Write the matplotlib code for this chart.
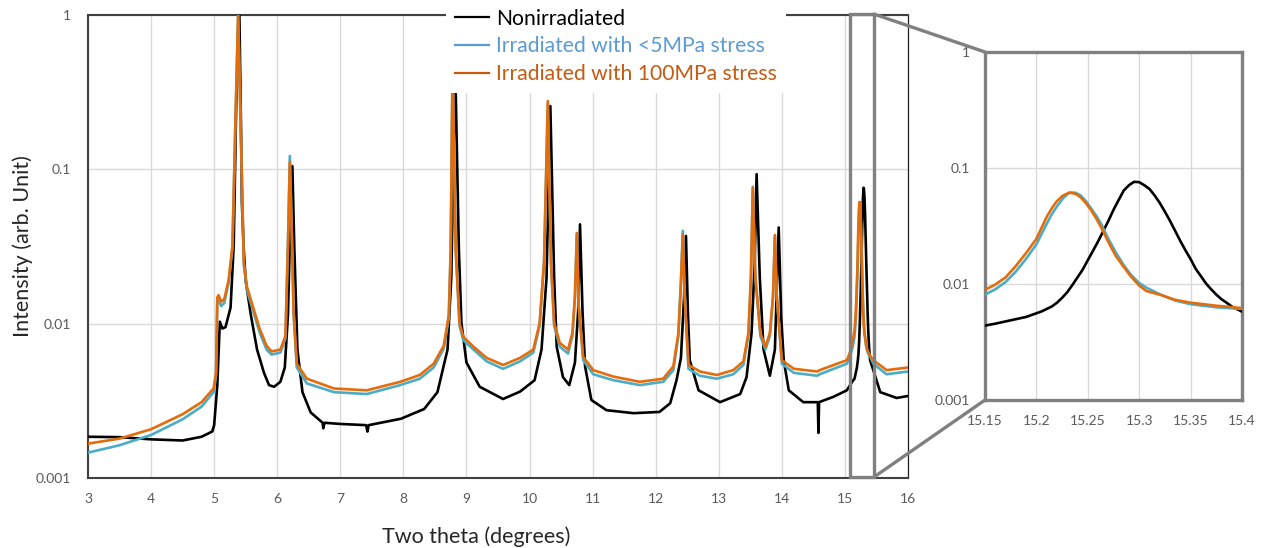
import matplotlib
matplotlib.use("Agg")
import matplotlib.pyplot as plt
from matplotlib.lines import Line2D
from matplotlib.patches import Rectangle, ConnectionPatch
import matplotlib.transforms as mtransforms

plt.rcParams['font.family'] = ['Lato', 'DejaVu Sans']

# ---------------- data ----------------
series_labels = ["Nonirradiated", "Irradiated with <5MPa stress", "Irradiated with 100MPa stress"]

x_non = [3.0, 3.5, 4.0, 4.5, 4.8, 4.97, 5.0, 5.05, 5.09, 5.13, 5.18, 5.26, 5.31, 5.35, 5.40,
         5.425, 5.44, 5.47, 5.50, 5.58, 5.68, 5.79, 5.87, 5.95, 6.05, 6.12, 6.17, 6.21, 6.24,
         6.27, 6.32, 6.40, 6.53, 6.72, 6.73, 6.75, 7.0, 7.41, 7.43, 7.45, 7.96, 8.33, 8.54,
         8.70, 8.76, 8.82, 8.88, 8.92, 9.0, 9.21, 9.58, 9.85, 10.08, 10.19, 10.27, 10.33,
         10.39, 10.43, 10.53, 10.63, 10.72, 10.77, 10.80, 10.84, 10.88, 10.98, 11.22, 11.65,
         12.06, 12.23, 12.33, 12.40, 12.45, 12.48, 12.51, 12.54, 12.68, 13.02, 13.34, 13.44,
         13.52, 13.57, 13.60, 13.65, 13.71, 13.81, 13.89, 13.95, 13.99, 14.03, 14.11, 14.34,
         14.57, 14.58, 14.59, 14.82, 15.03, 15.13,
         15.15, 15.16, 15.175, 15.19, 15.2, 15.205, 15.215, 15.22, 15.225, 15.23, 15.235,
         15.24, 15.245, 15.25, 15.255, 15.26, 15.265, 15.27, 15.275, 15.28, 15.285, 15.29,
         15.295, 15.3, 15.305, 15.31, 15.315, 15.32, 15.325, 15.33, 15.335, 15.34, 15.345,
         15.35, 15.355, 15.36, 15.365, 15.37, 15.375, 15.38, 15.385, 15.39, 15.4,
         15.45, 15.56, 15.82, 16.0]
y_non = [0.00185, 0.00184, 0.00178, 0.00175, 0.00185, 0.0020, 0.0022, 0.0040, 0.0103, 0.0093,
         0.0095, 0.0127, 0.032, 0.26, 1.0,
         0.2, 0.06, 0.03, 0.019, 0.0115, 0.0068, 0.0048, 0.0040, 0.0039, 0.0042, 0.0052,
         0.0115, 0.05, 0.105,
         0.032, 0.0068, 0.0036, 0.00266, 0.00228, 0.0021, 0.00228, 0.00224, 0.0022, 0.0020,
         0.0022, 0.00242, 0.0028, 0.0036,
         0.0068, 0.02, 0.5, 0.03, 0.0101, 0.0056, 0.0039, 0.00325, 0.00363, 0.0043, 0.0068,
         0.02, 0.257,
         0.02, 0.0071, 0.0045, 0.0040, 0.0056, 0.012, 0.044, 0.012, 0.0053, 0.0032, 0.00275,
         0.00263,
         0.00268, 0.00305, 0.0043, 0.0060, 0.015, 0.037, 0.012, 0.0058, 0.0037, 0.0031,
         0.0035, 0.0045,
         0.0087, 0.025, 0.093, 0.02, 0.0068, 0.0046, 0.0068, 0.042, 0.011, 0.0058, 0.0037,
         0.0031,
         0.0031, 0.00196, 0.0031, 0.00336, 0.0037, 0.0043,
         0.00438, 0.00455, 0.00486, 0.0052, 0.00559, 0.0058, 0.0064, 0.0069, 0.0076, 0.0085,
         0.0098,
         0.0114, 0.0133, 0.0160, 0.0193, 0.0233, 0.0285, 0.035, 0.0436, 0.053, 0.064, 0.071,
         0.076, 0.0755, 0.071, 0.066, 0.058, 0.050, 0.042, 0.035, 0.0287, 0.0235, 0.0195,
         0.0164, 0.0135, 0.0117, 0.0101, 0.0090, 0.0081, 0.0074, 0.0069, 0.0064, 0.00578,
         0.0050, 0.0036, 0.0033, 0.0034]

x_irr = [3.0, 3.5, 4.0, 4.5, 4.8, 4.99, 5.03, 5.05, 5.07, 5.11, 5.16, 5.23, 5.29, 5.33, 5.38,
         5.42, 5.47, 5.52, 5.62, 5.72, 5.83, 5.91, 6.05, 6.13, 6.17, 6.20, 6.23, 6.26, 6.31,
         6.47, 6.9, 7.42, 7.95, 8.26, 8.48, 8.64, 8.72, 8.75, 8.78, 8.83, 8.89, 8.95, 9.11,
         9.32, 9.58, 9.85, 10.06, 10.16, 10.23, 10.29, 10.34, 10.39, 10.48, 10.61, 10.68,
         10.72, 10.75, 10.78, 10.85, 11.01, 11.33, 11.75, 12.12, 12.28, 12.36, 12.40, 12.43,
         12.46, 12.52, 12.70, 12.97, 13.23, 13.39, 13.47, 13.51, 13.54, 13.58, 13.66, 13.74,
         13.81, 13.86, 13.89, 13.92, 14.0, 14.19, 14.56, 14.6, 15.03, 15.08, 15.12,
         15.15, 15.16, 15.17, 15.18, 15.19, 15.2, 15.21, 15.215, 15.22, 15.226, 15.232,
         15.238, 15.243, 15.248, 15.253, 15.258, 15.263, 15.27, 15.277, 15.285, 15.292, 15.3,
         15.307, 15.322, 15.335, 15.35, 15.375, 15.4,
         15.45, 15.66, 16.0]
y_low = [0.00146, 0.00163, 0.0019, 0.0024, 0.0029, 0.0036, 0.0046, 0.0138, 0.0143, 0.0130,
         0.0136, 0.0185, 0.031, 0.15, 1.0,
         0.2, 0.024, 0.0165, 0.0120, 0.0088, 0.0068, 0.0063, 0.0065, 0.0080, 0.033, 0.122,
         0.04, 0.0115, 0.0052,
         0.0041, 0.0036, 0.0035, 0.0040, 0.0044, 0.0052, 0.0069, 0.0108, 0.03, 0.5, 0.03,
         0.0097, 0.0078, 0.0068,
         0.0057, 0.0051, 0.0057, 0.0065, 0.0097, 0.025, 0.27, 0.025, 0.0097, 0.0071, 0.0064,
         0.0083,
         0.015, 0.038, 0.013, 0.0058, 0.0047, 0.0043, 0.0040, 0.0042, 0.0050, 0.0084, 0.019,
         0.040,
         0.015, 0.0051, 0.0046, 0.0044, 0.0047, 0.0054, 0.0084, 0.02, 0.077, 0.02, 0.0083,
         0.0068,
         0.0083, 0.015, 0.037, 0.015, 0.0055, 0.0048, 0.0046, 0.0047, 0.0055, 0.0061, 0.0070,
         0.0081, 0.0090, 0.0104, 0.0128, 0.0165, 0.0220, 0.0330, 0.040, 0.0467, 0.055, 0.0615,
         0.0612, 0.058, 0.052, 0.045, 0.039, 0.033, 0.0245, 0.0189, 0.0145, 0.0120, 0.0102,
         0.0093, 0.0080, 0.0072, 0.0067, 0.0063, 0.0061,
         0.0055, 0.0047, 0.0049]

x_high = x_irr
y_high = [0.00167, 0.0018, 0.00207, 0.00259, 0.0031, 0.0038, 0.0048, 0.0148, 0.0153, 0.0139,
          0.0144, 0.0192, 0.032, 0.154, 1.0,
          0.2, 0.025, 0.0173, 0.0127, 0.0093, 0.0072, 0.0066, 0.0068, 0.0083, 0.032, 0.112,
          0.04, 0.012, 0.0055,
          0.0044, 0.0038, 0.0037, 0.0042, 0.00465, 0.0055, 0.0072, 0.0114, 0.03, 0.5, 0.03,
          0.0101, 0.0082, 0.0071,
          0.0060, 0.0054, 0.0060, 0.0068, 0.0101, 0.025, 0.277, 0.025, 0.0101, 0.0075, 0.0068,
          0.0087,
          0.015, 0.0387, 0.013, 0.0061, 0.0050, 0.00454, 0.0042, 0.0044, 0.0053, 0.0087, 0.018,
          0.038,
          0.015, 0.0054, 0.0049, 0.00465, 0.0050, 0.0057, 0.0087, 0.02, 0.076, 0.02, 0.0087,
          0.0071,
          0.0087, 0.015, 0.0375, 0.015, 0.0058, 0.0051, 0.0049, 0.0050, 0.0058, 0.0065, 0.0076,
          0.0089, 0.0099, 0.0114, 0.0143, 0.0185, 0.0245, 0.0379, 0.045, 0.0519, 0.058, 0.0612,
          0.060, 0.056, 0.050, 0.0436, 0.037, 0.0308, 0.023, 0.0176, 0.0140, 0.0116, 0.0097,
          0.0087, 0.0080, 0.0073, 0.0069, 0.0065, 0.0062,
          0.0058, 0.0050, 0.0052]

main_xticks = list(range(3, 17))
main_yticks = [0.001, 0.01, 0.1, 1]
ytick_labels = ["0.001", "0.01", "0.1", "1"]
inset_xticks = [15.15, 15.2, 15.25, 15.3, 15.35, 15.4]
inset_xtick_labels = ["15.15", "15.2", "15.25", "15.3", "15.35", "15.4"]
zoom_box = (15.08, 15.46)

# ---------------- style ----------------
c_non, c_low, c_high = "#000000", "#4BACC6", "#E46C0A"
leg_colors = ["#000000", "#5B9BD5", "#C55A11"]
tick_col = "#595959"
grid_col = "#D9D9D9"
box_col = "#808080"
LW = 1.9

W, H = 1265, 548
fig = plt.figure(figsize=(W / 100, H / 100), dpi=100)

ax = fig.add_axes([88 / W, (H - 478) / H, 820 / W, 463 / H])
axi = fig.add_axes([985 / W, (H - 400) / H, 257 / W, 348 / H])

for a in (ax, axi):
    a.plot(x_non, y_non, color=c_non, lw=LW, zorder=3)
    a.plot(x_irr, y_low, color=c_low, lw=LW, zorder=3)
    a.plot(x_high, y_high, color=c_high, lw=LW, zorder=3)
    a.set_yscale("log")
    a.set_ylim(0.001, 1)
    a.set_yticks(main_yticks)
    a.set_yticklabels(ytick_labels)
    a.minorticks_off()
    a.grid(True, color=grid_col, lw=1.0, zorder=0)
    a.set_axisbelow(True)
    a.tick_params(length=0, colors=tick_col, labelsize=10)

ax.set_xlim(3, 16)
ax.set_xticks(main_xticks)
ax.tick_params(axis="x", pad=11)
ax.tick_params(axis="y", pad=12)
for s in ("left", "bottom", "top"):
    ax.spines[s].set_color("#404040")
    ax.spines[s].set_linewidth(1.5)
ax.spines["right"].set_color("#202020")
ax.spines["right"].set_linewidth(0.9)

axi.set_xlim(inset_xticks[0], inset_xticks[-1])
axi.set_xticks(inset_xticks)
axi.set_xticklabels(inset_xtick_labels)
axi.tick_params(axis="x", pad=11)
axi.tick_params(axis="y", pad=11)
for s in axi.spines.values():
    s.set_color(box_col)
    s.set_linewidth(2.4)

ax.set_xlabel("Two theta (degrees)", fontsize=15.5, color="#262626", labelpad=15, x=0.473)
ax.set_ylabel("Intensity (arb. Unit)", fontsize=15.5, color="#262626", labelpad=2)

# zoom box on main axes
trans = mtransforms.blended_transform_factory(ax.transData, ax.transAxes)
rect = Rectangle((zoom_box[0], 0.002), zoom_box[1] - zoom_box[0], 1.0,
                 transform=trans, fill=False, edgecolor=box_col, lw=2.4,
                 clip_on=False, zorder=6)
ax.add_patch(rect)
for ya, yb in ((1.0 + 0.002, 1.0), (0.002, 0.0)):
    cp = ConnectionPatch(xyA=(zoom_box[1], ya), coordsA=trans,
                         xyB=(0.0, yb), coordsB=axi.transAxes,
                         color=box_col, lw=2.4, zorder=6)
    fig.add_artist(cp)

# legend
handles = [Line2D([], [], color=c, lw=1.6) for c in leg_colors]
leg = ax.legend(handles, series_labels, loc="upper left",
                bbox_to_anchor=(446 / W, 1.0), bbox_transform=fig.transFigure,
                fontsize=15.2, frameon=True, fancybox=False, framealpha=1,
                edgecolor="none", facecolor="white", borderaxespad=0,
                handlelength=1.6, handletextpad=0.35, labelspacing=0.36,
                borderpad=0.42)
leg.set_zorder(10)
for t, c in zip(leg.get_texts(), leg_colors):
    t.set_color(c)

fig.savefig("out.png", dpi=100)
